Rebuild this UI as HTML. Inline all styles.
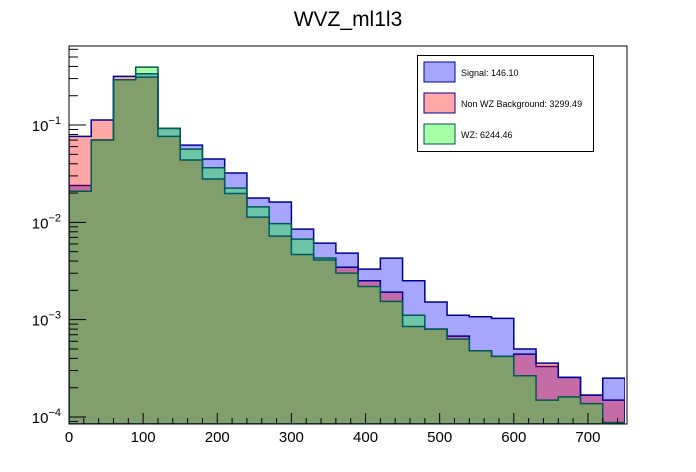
<!DOCTYPE html>
<html><head><meta charset="utf-8"><style>
body{margin:0;background:#fff;}
svg{display:block;font-family:"Liberation Sans",Arial,sans-serif;}
</style></head><body>
<svg id="chart" width="696" height="472" viewBox="0 0 696 472">
<rect width="696" height="472" fill="#fff"/>
<text x="348" y="26" font-size="21" text-anchor="middle">WVZ_ml1l3</text>
<g id="plot"></g>
<g id="axes"></g>
<g>
<rect x="417.5" y="55.5" width="176" height="96" fill="#fff" stroke="#000" stroke-width="1"/>
<rect x="424" y="62" width="31" height="20" fill="rgba(0,0,255,0.35)" stroke="#000099"/>
<text x="461" y="76" font-size="9">Signal: 146.10</text>
<rect x="424" y="93" width="31" height="20" fill="rgba(255,0,0,0.35)" stroke="#000099"/>
<text x="461" y="107" font-size="9">Non WZ Background: 3299.49</text>
<rect x="424" y="124" width="31" height="20" fill="rgba(0,255,0,0.35)" stroke="#005555"/>
<text x="461" y="138" font-size="9">WZ: 6244.46</text>
</g>
</svg>
<script>
const binEdgesStart = 0;
const binWidth = 30;
const signalValues = [0.0239,0.0702,0.292,0.336,0.0923,0.0622,0.0448,0.0321,0.0178,0.0162,0.00853,0.00612,0.00483,0.00331,0.00429,0.00251,0.00152,0.00111,0.00107,0.00103,0.000499,0.000330,0.000255,0.000168,0.000251];
const nonWZValues = [0.0764,0.1125,0.316,0.311,0.0764,0.0437,0.0279,0.0198,0.0113,0.00722,0.00468,0.00410,0.00346,0.00251,0.00192,0.000851,0.000800,0.000678,0.000479,0.000419,0.000443,0.000358,0.000255,0.000168,0.000149];
const wzValues = [0.0209,0.0702,0.292,0.394,0.0923,0.0566,0.0364,0.0225,0.0144,0.00969,0.00673,0.00430,0.00301,0.00219,0.00154,0.00111,0.000800,0.000632,0.000479,0.000419,0.000265,0.000149,0.000161,0.000137,0.0000879];
const xTicks = [0,100,200,300,400,500,600,700];
const yDecades = [-4,-3,-2,-1];

const NS="http://www.w3.org/2000/svg";
const L=69,R=625,T=46,B=424;
const xMin=0,xMax=750;
const yLogMin=-4.072,yLogMax=-0.188;
const xs=v=>L+(v-xMin)/(xMax-xMin)*(R-L);
const ys=v=>{const lv=Math.log10(Math.max(v,1e-9));return B-(lv-yLogMin)/(yLogMax-yLogMin)*(B-T);};
const plot=document.getElementById('plot');
const axes=document.getElementById('axes');
function mk(tag,attrs,parent){const e=document.createElementNS(NS,tag);for(const k in attrs)e.setAttribute(k,attrs[k]);parent.appendChild(e);return e;}

const clip=mk('clipPath',{id:'pc'},plot);
mk('rect',{x:L,y:T,width:R-L,height:B-T},clip);
const series=[[signalValues,'rgba(0,0,255,0.35)','#000099','signal'],[nonWZValues,'rgba(255,0,0,0.35)','#000099','nonwz'],[wzValues,'rgba(0,255,0,0.35)','#005a50','wz']];
series.forEach(([vals,fill,stroke,nm])=>{
  let d='M'+xs(binEdgesStart)+','+B;
  vals.forEach((v,i)=>{const x0=xs(binEdgesStart+i*binWidth),x1=xs(binEdgesStart+(i+1)*binWidth),y=Math.max(ys(v),T);d+=' L'+x0+','+y+' L'+x1+','+y;});
  d+=' L'+xs(binEdgesStart+vals.length*binWidth)+','+B+' Z';
  const p=mk('path',{d:d,fill:fill,stroke:stroke,'stroke-width':1.5,'clip-path':'url(#pc)'},plot);
  
  
});

// frame
const fr=mk('rect',{x:L,y:T,width:R-L+2,height:B-T,fill:'none',stroke:'#000','stroke-width':1},axes);


// x ticks
for(let v=0;v<=740;v+=20){
  const major=v%100===0;
  mk('line',{x1:xs(v),x2:xs(v),y1:B,y2:B-(major?11:6),stroke:'#000','stroke-width':1},axes);
}
xTicks.forEach(v=>{
  const t=mk('text',{x:xs(v),y:B+18,'font-size':15,'text-anchor':'middle'},axes);
  t.textContent=v;
  
  
});
// y ticks
for(let e=-5;e<=0;e++){
  for(let m=1;m<=9;m++){
    const v=m*Math.pow(10,e);const y=ys(v);
    if(y<T-0.5||y>B+0.5)continue;
    mk('line',{x1:L,x2:L+(m===1?17:9),y1:y,y2:y,stroke:'#000','stroke-width':1},axes);
  }
}
yDecades.forEach(e=>{
  const y=ys(Math.pow(10,e));
  const t=mk('text',{x:L-8,y:y+6,'font-size':15,'text-anchor':'end'},axes);
  
  
  const a=document.createElementNS(NS,'tspan');a.textContent='10';t.appendChild(a);
  const b=document.createElementNS(NS,'tspan');b.setAttribute('dy','-7');b.setAttribute('font-size','11');b.textContent='\u2212'+(-e);t.appendChild(b);
  // rebuild with right anchoring via bbox
});
</script>
</body></html>
